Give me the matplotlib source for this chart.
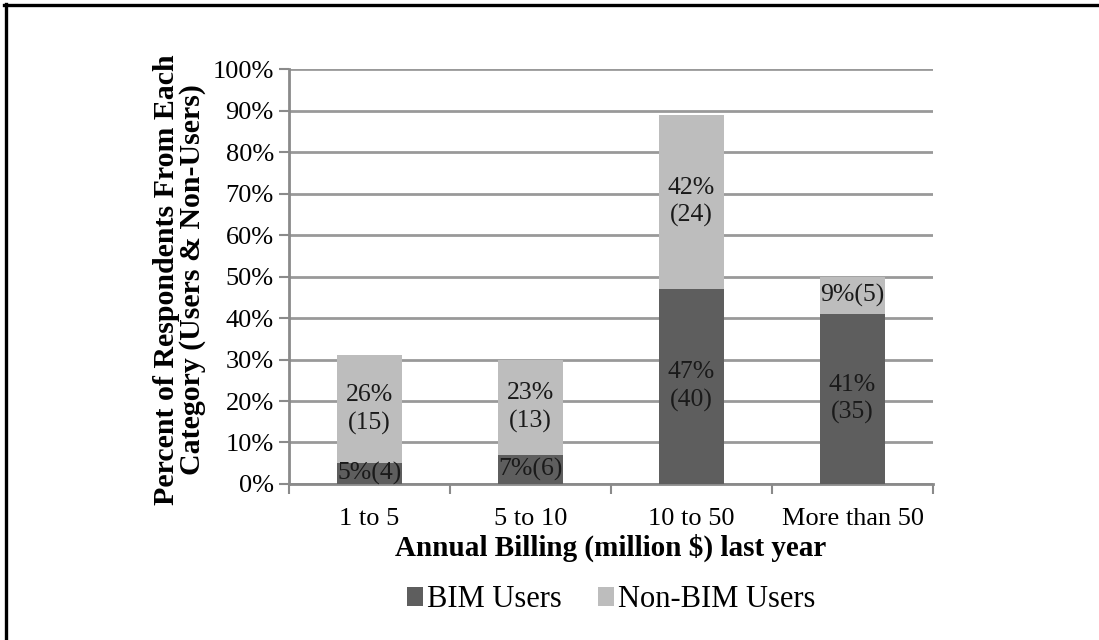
import matplotlib
matplotlib.use("Agg")
import matplotlib.pyplot as plt
from matplotlib.lines import Line2D
import numpy as np

categories = ["1 to 5", "5 to 10", "10 to 50", "More than 50"]
bim_pct = [5, 7, 47, 41]
bim_count = [4, 6, 40, 35]
non_bim_pct = [26, 23, 42, 9]
non_bim_count = [15, 13, 24, 5]
y_ticks = [0, 10, 20, 30, 40, 50, 60, 70, 80, 90, 100]

plt.rcParams["font.family"] = ["Liberation Serif", "DejaVu Serif"]

BIM_COLOR = "#5e5e5e"
NON_BIM_COLOR = "#bdbdbd"
GRID_COLOR = "#999999"
AXIS_COLOR = "#8a8a8a"

fig = plt.figure(figsize=(10.99, 6.40), dpi=100)
ax = fig.add_axes([0.263, 0.2438, 0.586, 0.648])

x = np.arange(len(categories))
width = 0.40
ax.bar(x, bim_pct, width, color=BIM_COLOR, label="BIM Users", zorder=3)
ax.bar(x, non_bim_pct, width, bottom=bim_pct, color=NON_BIM_COLOR,
       label="Non-BIM Users", zorder=3)

# segment labels: percent with respondent count in parentheses
for i in range(len(categories)):
    b, nb = bim_pct[i], non_bim_pct[i]
    if b < 15:
        txt_b = f"{b}%({bim_count[i]})"
    else:
        txt_b = f"{b}%\n({bim_count[i]})"
    if nb < 15:
        txt_nb = f"{nb}%({non_bim_count[i]})"
    else:
        txt_nb = f"{nb}%\n({non_bim_count[i]})"
    ax.text(x[i], b / 2, txt_b, ha="center", va="center", fontsize=18.5,
            color="#1a1a1a", linespacing=1.32, zorder=4)
    ax.text(x[i], b + nb / 2, txt_nb, ha="center", va="center", fontsize=18.5,
            color="#1a1a1a", linespacing=1.32, zorder=4)

ax.set_xlim(-0.5, len(categories) - 0.5)
ax.set_ylim(0, 100)
ax.set_yticks(y_ticks)
ax.set_yticklabels([f"{t}%" for t in y_ticks], fontsize=19)
ax.yaxis.grid(True, color=GRID_COLOR, linewidth=2.0, zorder=0)
ax.set_axisbelow(True)

ax.set_xticks(x)
ax.set_xticklabels(categories, fontsize=19)
ax.set_xticks(np.arange(len(categories) + 1) - 0.5, minor=True)
ax.tick_params(axis="x", which="major", length=0, pad=17)
ax.tick_params(axis="x", which="minor", length=7, width=1.5, color=AXIS_COLOR)
ax.tick_params(axis="y", length=7, width=1.5, color=AXIS_COLOR, pad=4)

for side in ("top", "right"):
    ax.spines[side].set_visible(False)
for side in ("left", "bottom"):
    ax.spines[side].set_color(AXIS_COLOR)
    ax.spines[side].set_linewidth(2.0)

ax.set_ylabel("Percent of Respondents From Each\nCategory (Users & Non-Users)",
              fontsize=21.5, fontweight="bold", linespacing=0.95)
ax.yaxis.set_label_coords(-0.129, 0.493)
ax.set_xlabel("Annual Billing (million $) last year", fontsize=21,
              fontweight="bold", labelpad=3)

ax.legend(loc="upper center", bbox_to_anchor=(0.5, -0.178), ncol=2,
          frameon=False, fontsize=22, handlelength=0.52, handleheight=0.6,
          handletextpad=0.12, columnspacing=1.2)

# page frame on the left and top edges
fig.add_artist(Line2D([0.0055, 0.0055], [0, 0.993], transform=fig.transFigure,
                      color="black", linewidth=2.4))
fig.add_artist(Line2D([0.0035, 1.0], [0.9925, 0.9925], transform=fig.transFigure,
                      color="black", linewidth=2.4))

fig.savefig("out.png", dpi=100)
